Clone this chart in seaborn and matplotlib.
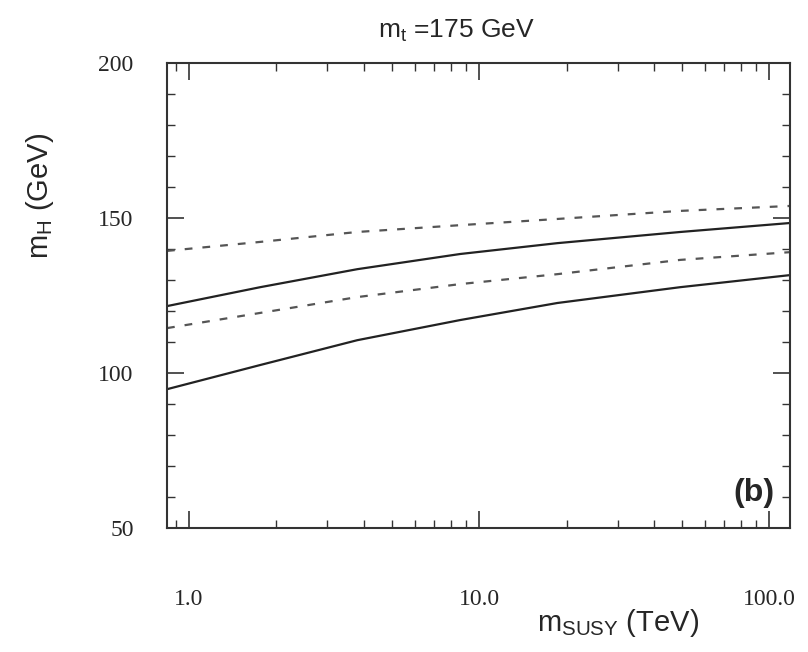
import pandas as pd
import matplotlib.pyplot as plt
import seaborn as sns
from matplotlib.ticker import FixedLocator, LogLocator, MultipleLocator, NullFormatter

# m_SUSY (TeV) sample points
m_susy = [0.84, 1.76, 3.8, 8.6, 18.6, 49.3, 118.0]

# m_H (GeV) for the four curves
upper_solid = [121.6, 127.7, 133.5, 138.4, 141.9, 145.5, 148.4]
upper_dashed = [139.4, 142.3, 145.5, 147.7, 149.7, 152.3, 153.9]
lower_solid = [94.8, 102.6, 110.6, 117.1, 122.6, 127.7, 131.6]
lower_dashed = [114.5, 119.4, 124.5, 128.7, 131.9, 136.5, 139.0]

x_ticks = [1, 10, 100]
x_tick_labels = ["1.0", "10.0", "100.0"]
y_ticks = [50, 100, 150, 200]

sns.set_style("ticks")
plt.rcParams["font.family"] = ["Liberation Sans", "DejaVu Sans"]

fig = plt.figure(figsize=(8.08, 6.52), dpi=100)
ax = fig.add_axes([0.2067, 0.19, 0.7713, 0.7134])

curves = {
    "upper_dashed": (upper_dashed, (0, (3.5, 4.5)), "#555555"),
    "upper_solid": (upper_solid, "-", "#222222"),
    "lower_dashed": (lower_dashed, (0, (3.5, 4.5)), "#555555"),
    "lower_solid": (lower_solid, "-", "#222222"),
}
for name, (vals, ls, col) in curves.items():
    df = pd.DataFrame({"m_susy": m_susy, "m_H": vals})
    sns.lineplot(data=df, x="m_susy", y="m_H", ax=ax, color=col,
                 linestyle=ls, linewidth=1.6)

ax.set_xscale("log")
ax.set_xlim(0.84, 118)
ax.set_ylim(50, 200)
ax.set_xlabel("")
ax.set_ylabel("")

ax.xaxis.set_major_locator(FixedLocator(x_ticks))
ax.set_xticklabels(x_tick_labels)
ax.xaxis.set_minor_locator(LogLocator(base=10, subs=range(2, 10)))
ax.xaxis.set_minor_formatter(NullFormatter())
ax.yaxis.set_major_locator(FixedLocator(y_ticks))
ax.yaxis.set_minor_locator(MultipleLocator(10))

ax.tick_params(which="both", direction="in", top=True, right=True,
               color="#333333")
ax.tick_params(which="major", length=12, width=1.2)
ax.tick_params(which="minor", length=6, width=1.0)
ax.tick_params(axis="x", which="major", pad=44, labelsize=17)
ax.tick_params(axis="y", which="major", pad=24, labelsize=17)
for lab in ax.get_xticklabels() + ax.get_yticklabels():
    lab.set_fontfamily("Liberation Serif")

for sp in ax.spines.values():
    sp.set_linewidth(1.5)
    sp.set_color("#333333")

fig.text(0.565, 0.953, r"$\mathregular{m_t}$ =175 GeV", ha="center",
         va="center", fontsize=19)
fig.text(0.05, 0.70, r"$\mathregular{m_H}$ (GeV)", rotation=90,
         ha="center", va="center", fontsize=21)
fig.text(0.765, 0.045, r"$\mathregular{m_{SUSY}}$ (TeV)", ha="center",
         va="center", fontsize=21)
ax.text(0.975, 0.075, "(b)", transform=ax.transAxes, ha="right",
        va="center", fontsize=23, fontweight="bold")

fig.savefig("out.png", dpi=100)
